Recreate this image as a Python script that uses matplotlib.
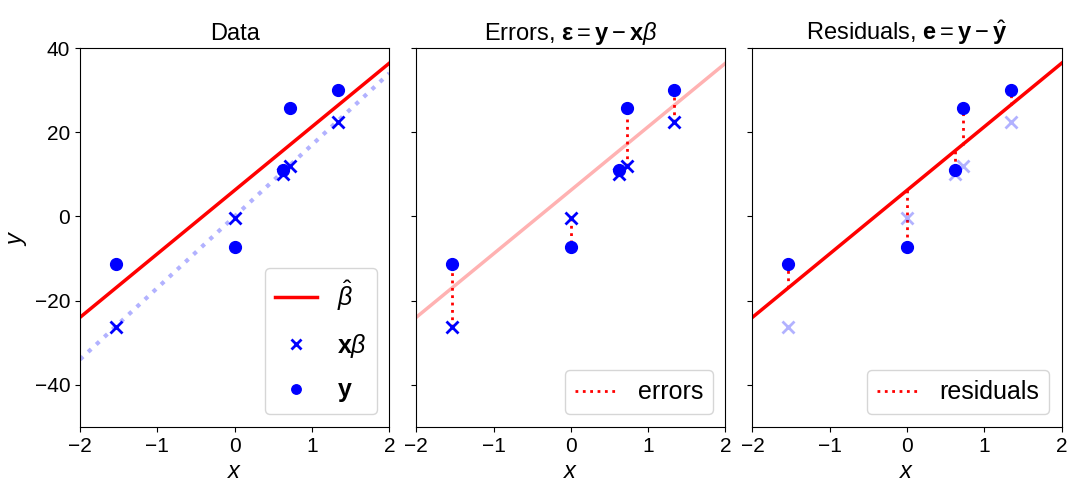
import numpy as np
import matplotlib.pyplot as plt

plt.rcParams['font.family'] = ['Liberation Sans', 'DejaVu Sans']
plt.rcParams['mathtext.fontset'] = 'custom'
plt.rcParams['mathtext.rm'] = 'Liberation Sans'
plt.rcParams['mathtext.it'] = 'Liberation Sans:italic'
plt.rcParams['mathtext.bf'] = 'Liberation Sans:bold'

# values
x = np.array([-1.54, 0.0, 0.62, 0.72, 1.34])
y = np.array([-11.3, -7.3, 11.0, 25.8, 30.1])
xbeta = np.array([-26.3, -0.4, 10.1, 11.9, 22.4])
beta = 17.0                  # true slope (dotted line)
beta_hat = (6.2, 15.1)       # fitted intercept, slope
x_line = np.array([-2, 2])

yhat = beta_hat[0] + beta_hat[1] * x
fit_line = beta_hat[0] + beta_hat[1] * x_line
true_line = beta * x_line

fig, axes = plt.subplots(1, 3, figsize=(10.67, 4.9), sharey=True)
fig.subplots_adjust(left=0.075, right=0.995, top=0.902, bottom=0.129, wspace=0.087)

ms = 8.5
leg_kw = dict(loc='lower right', fontsize=18, markerscale=0.8, handlelength=1.7)

# Data
ax = axes[0]
ax.plot(x_line, true_line, ':', color='blue', alpha=0.3, lw=3)
ax.plot(x_line, fit_line, '-', color='red', lw=2.5, label=r'$\hat{\beta}$')
ax.plot(x, xbeta, 'x', color='blue', ms=ms, mew=2, label=r'$\mathbf{x}\beta$')
ax.plot(x, y, 'o', color='blue', ms=ms, label=r'$\mathbf{y}$')
ax.set_title('Data', fontsize=17)
ax.set_ylabel('$y$', fontsize=17)
ax.legend(labelspacing=0.75, **leg_kw)

# Errors
ax = axes[1]
ax.plot(x_line, fit_line, '-', color='red', lw=2.5, alpha=0.3)
ax.vlines(x, xbeta, y, colors='red', linestyles=':', lw=2, label='errors')
ax.plot(x, xbeta, 'x', color='blue', ms=ms, mew=2)
ax.plot(x, y, 'o', color='blue', ms=ms)
ax.set_title(r'Errors, $\boldsymbol{\varepsilon} = \mathbf{y} - \mathbf{x}\beta$', fontsize=17)
ax.legend(**leg_kw)

# Residuals
ax = axes[2]
ax.plot(x_line, fit_line, '-', color='red', lw=2.5)
ax.vlines(x, yhat, y, colors='red', linestyles=':', lw=2, label='residuals')
ax.plot(x, xbeta, 'x', color='blue', ms=ms, mew=2, alpha=0.3)
ax.plot(x, y, 'o', color='blue', ms=ms)
ax.set_title(r'Residuals, $\mathbf{e} = \mathbf{y} - \hat{\mathbf{y}}$', fontsize=17)
ax.legend(**leg_kw)

for ax in axes:
    ax.set_xlim(-2, 2)
    ax.set_ylim(-50, 40)
    ax.set_xticks([-2, -1, 0, 1, 2])
    ax.set_xlabel('$x$', fontsize=17)
    ax.tick_params(labelsize=15)
axes[0].set_yticks([-40, -20, 0, 20, 40])

plt.savefig('out.png', dpi=100)
plt.close()
